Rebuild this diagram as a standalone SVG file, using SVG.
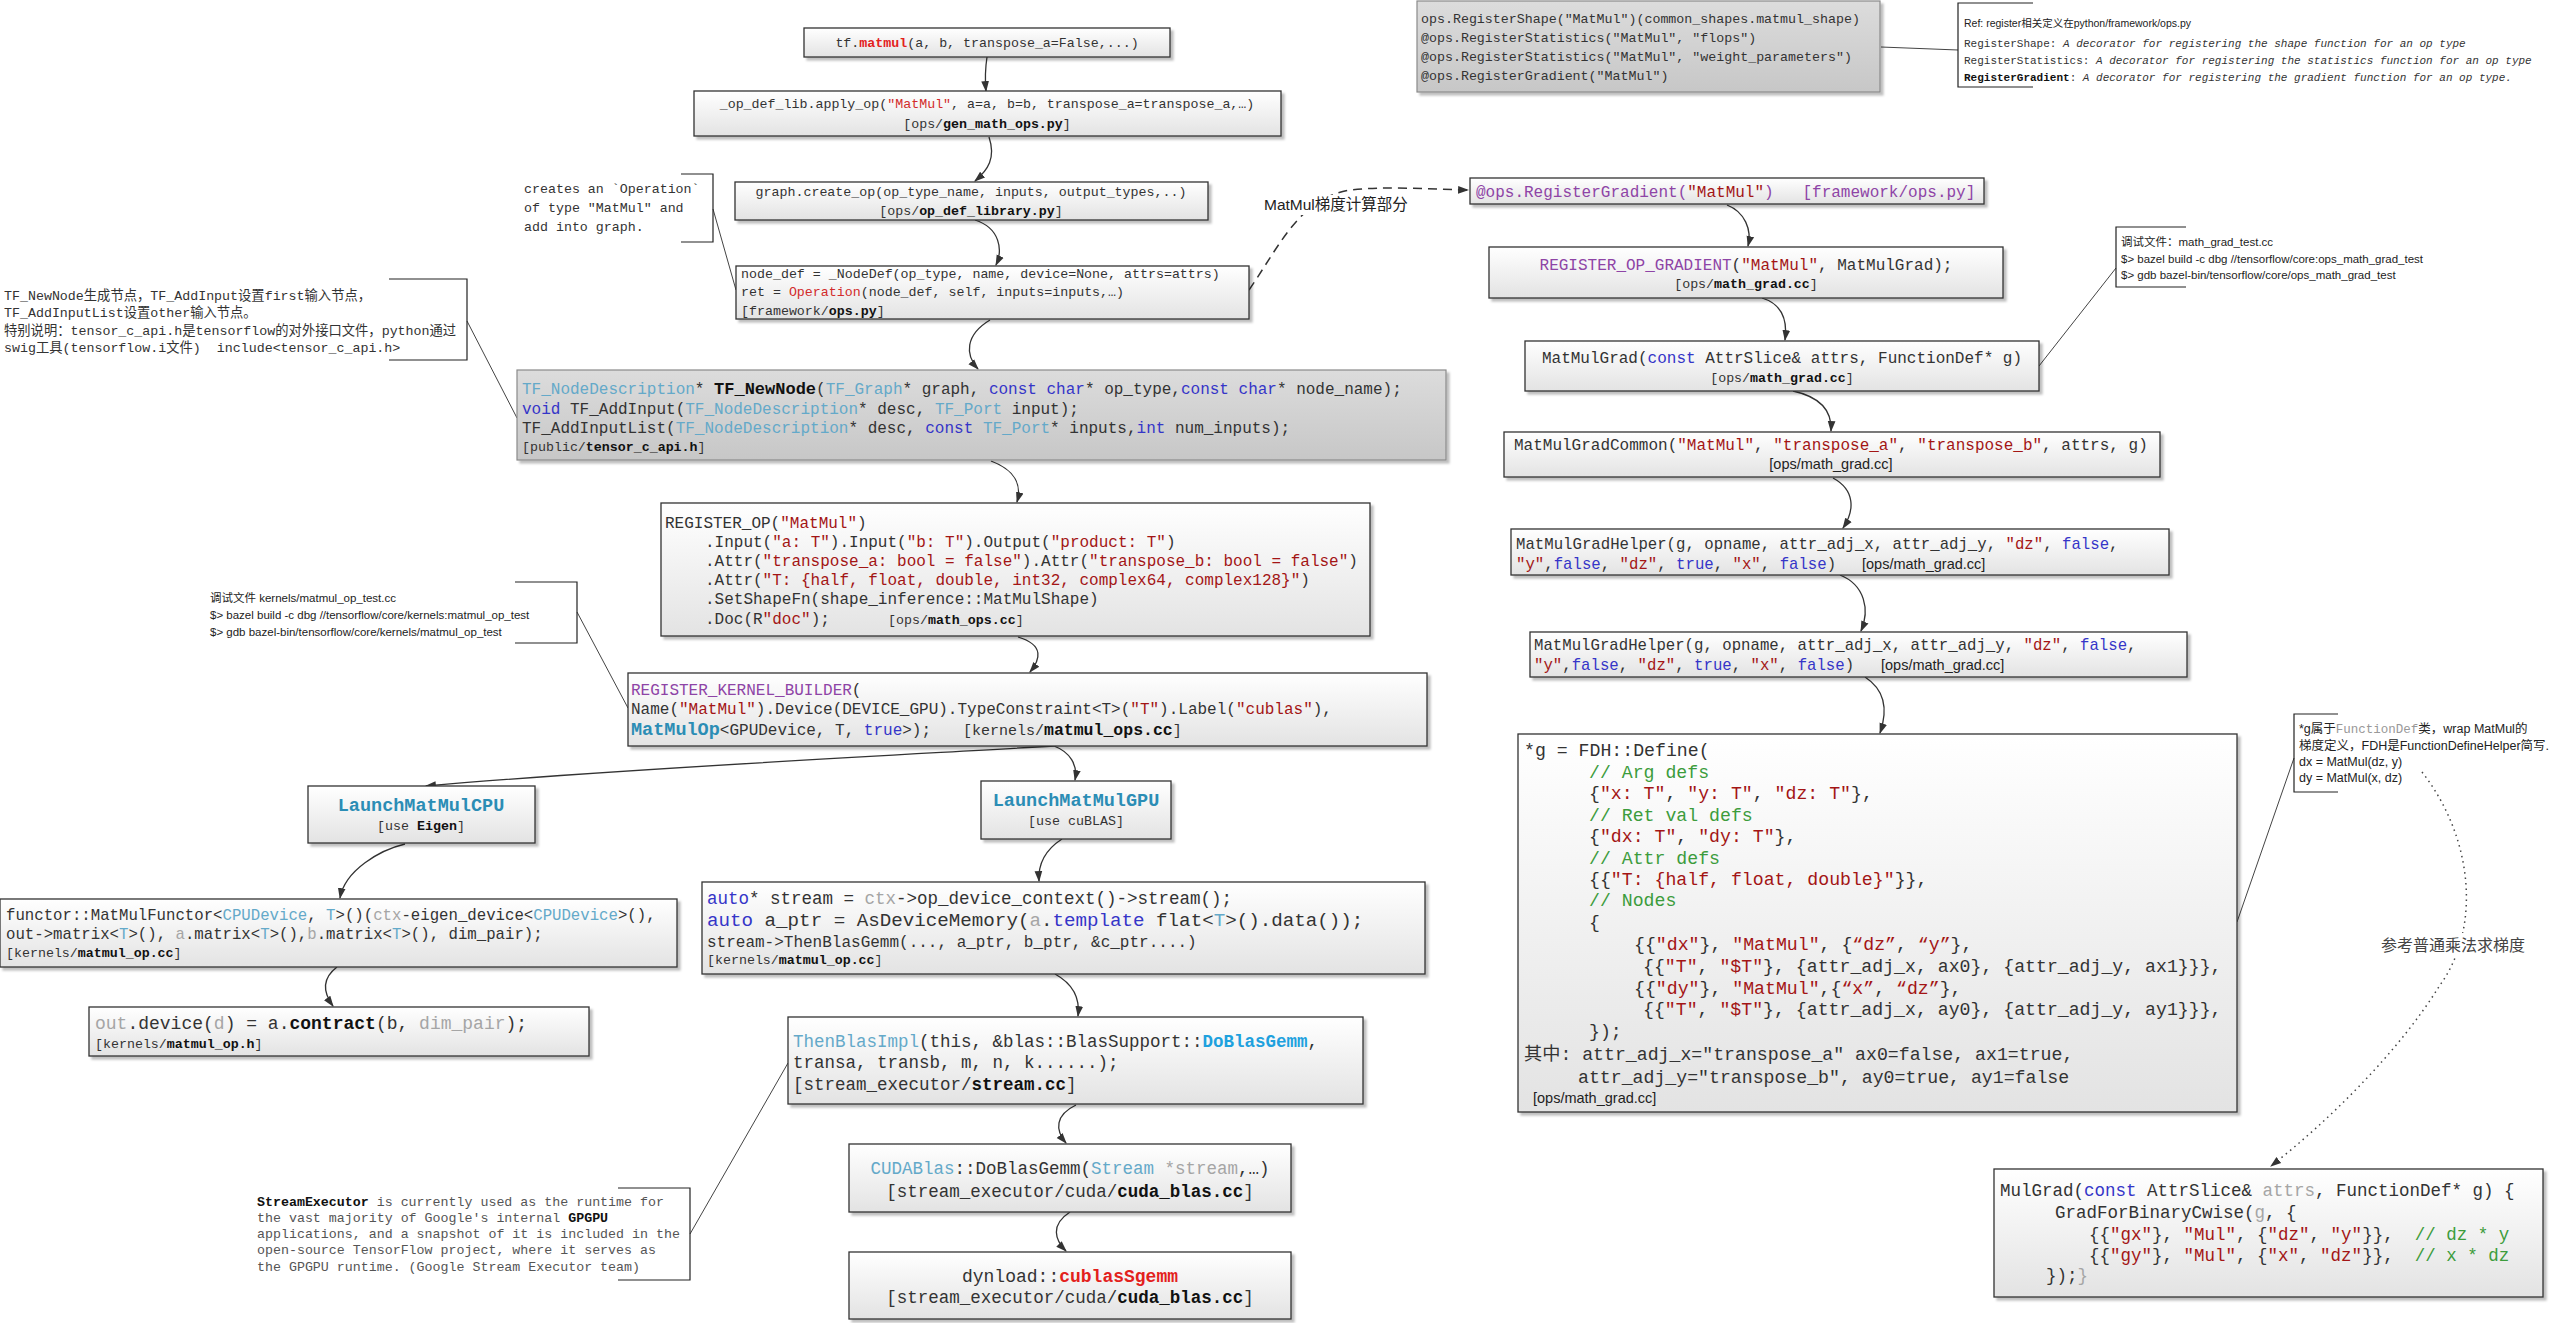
<svg xmlns="http://www.w3.org/2000/svg" width="2551" height="1323" viewBox="0 0 2551 1323">
<defs>
<linearGradient id="g" x1="0" y1="0" x2="0" y2="1"><stop offset="0" stop-color="#ffffff"/><stop offset="1" stop-color="#e3e3e3"/></linearGradient>
<linearGradient id="gg" x1="0" y1="0" x2="0" y2="1"><stop offset="0" stop-color="#dcdcdc"/><stop offset="1" stop-color="#c7c7c7"/></linearGradient>
<filter id="sh" x="-5%" y="-10%" width="115%" height="140%"><feDropShadow dx="3" dy="3" stdDeviation="1.2" flood-color="#000" flood-opacity="0.25"/></filter>
<marker id="ar" viewBox="0 0 10 10" refX="9" refY="5" markerUnits="userSpaceOnUse" markerWidth="11" markerHeight="11" orient="auto"><path d="M0,1.5 L10,5 L0,8.5 Z" fill="#333"/></marker>
</defs>
<style>
.bx{fill:url(#g);stroke:#333;stroke-width:1.3;filter:url(#sh)}
.gb{fill:url(#gg);stroke:#8a8a8a;stroke-width:1.2;filter:url(#sh)}
.m{font-family:"Liberation Mono","Noto Sans CJK SC",monospace;fill:#333}
.sn{font-family:"Liberation Sans","Noto Sans CJK SC",sans-serif;fill:#222}
.f11{font-size:11px}.f13{font-size:13.3px}.f16{font-size:16px}.f17{font-size:17.5px}.f18{font-size:18.2px}
.r{fill:#a31515}.rr{fill:#d22b2b}.R{fill:#e3211c;font-weight:bold}
.k{fill:#3535c8}.t{fill:#64a9c9}.gy{fill:#a5a5a5}.p{fill:#8e44a6}.c{fill:#3c9c3c}
.bd{font-weight:bold;fill:#111}.tb{fill:#2b8db5;font-weight:bold}.db{fill:#1ea1de;font-weight:bold}
.it{font-style:italic}
.e{fill:none;stroke:#333;stroke-width:1.3;marker-end:url(#ar)}
.ds{fill:none;stroke:#333;stroke-width:1.5;stroke-dasharray:9 6;marker-end:url(#ar)}
.dt{fill:none;stroke:#444;stroke-width:1.5;stroke-dasharray:1.5 4;marker-end:url(#ar)}
.ln{fill:none;stroke:#444;stroke-width:1}
.br{fill:none;stroke:#222;stroke-width:1.2}
</style>
<rect x="0" y="0" width="2551" height="1323" fill="#ffffff"/>

<g id="connectors">
<path class="e" d="M987,57 C985,70 985,80 986,91"/>
<path class="e" d="M989,137 C996,158 988,170 975,181"/>
<path class="e" d="M975,220 C1000,228 1003,250 996,265"/>
<path class="e" d="M990,320 C965,335 965,355 978,369"/>
<path class="e" d="M991,461 C1015,470 1022,485 1017,502"/>
<path class="e" d="M1018,637 C1045,645 1040,660 1030,672"/>
<path class="e" d="M1054,746 C900,755 600,770 426,786"/>
<path class="e" d="M1054,746 C1070,752 1078,765 1075,780"/>
<path class="e" d="M405,844 C380,850 345,870 340,898"/>
<path class="e" d="M337,967 C320,980 325,995 333,1006"/>
<path class="e" d="M1062,839 C1045,850 1038,865 1039,881"/>
<path class="e" d="M1055,974 C1075,985 1080,1000 1078,1016"/>
<path class="e" d="M1076,1105 C1055,1115 1055,1130 1066,1143"/>
<path class="e" d="M1070,1212 C1050,1225 1055,1240 1066,1251"/>
<path class="e" d="M1727,205 C1745,212 1752,230 1748,246"/>
<path class="e" d="M1762,298 C1785,305 1787,325 1785,340"/>
<path class="e" d="M1793,391 C1825,398 1832,415 1831,431"/>
<path class="e" d="M1833,478 C1855,490 1855,510 1843,528"/>
<path class="e" d="M1840,575 C1865,585 1870,610 1861,631"/>
<path class="e" d="M1865,677 C1885,690 1888,710 1880,733"/>
<path class="ds" d="M1249,290 C1280,245 1300,198 1350,190 C1385,186 1420,189 1468,190"/>
<path class="dt" d="M2422,772 C2475,840 2480,930 2440,985 C2400,1050 2330,1120 2271,1166"/>
<path class="ln" d="M1881,47 L1958,50"/>
<path class="ln" d="M713,209 L736,290"/>
<path class="ln" d="M467,321 L517,418"/>
<path class="ln" d="M577,612 L628,708"/>
<path class="ln" d="M690,1234 L788,1063"/>
<path class="ln" d="M2039,366 L2116,268"/>
<path class="ln" d="M2237,922 L2294,758"/>
</g>

<g id="n-registershape"><rect class="gb" x="1417" y="1" width="463" height="91"/>
<text class="m f13" x="1421" y="22.5">ops.RegisterShape("MatMul")(common_shapes.matmul_shape)</text>
<text class="m f13" x="1421" y="41.5">@ops.RegisterStatistics("MatMul", "flops")</text>
<text class="m f13" x="1421" y="60.5">@ops.RegisterStatistics("MatMul", "weight_parameters")</text>
<text class="m f13" x="1421" y="79.5">@ops.RegisterGradient("MatMul")</text></g>

<g id="n-refnote"><path class="br" d="M2033,3 H1958 V87 H2033"/>
<text class="sn" style="font-size:10.5px" x="1964" y="27">Ref: register相关定义在python/framework/ops.py</text>
<text class="m f11" x="1964" y="47">RegisterShape: <tspan class="it">A decorator for registering the shape function for an op type</tspan></text>
<text class="m f11" x="1964" y="64">RegisterStatistics: <tspan class="it">A decorator for registering the statistics function for an op type</tspan></text>
<text class="m f11" x="1964" y="81"><tspan class="bd">RegisterGradient</tspan>: <tspan class="it">A decorator for registering the gradient function for an op type.</tspan></text></g>

<g id="n-tfmatmul"><rect class="bx" x="804" y="28" width="366" height="29"/>
<text class="m f13" x="987" y="47" text-anchor="middle">tf.<tspan class="R">matmul</tspan>(a, b, transpose_a=False,...)</text></g>

<g id="n-applyop"><rect class="bx" x="694" y="91" width="587" height="45"/>
<text class="m f13" x="987" y="108" text-anchor="middle">_op_def_lib.apply_op(<tspan class="rr">"MatMul"</tspan>, a=a, b=b, transpose_a=transpose_a,…)</text>
<text class="m f13" x="987" y="127.5" text-anchor="middle">[ops/<tspan class="bd">gen_math_ops.py</tspan>]</text></g>

<g id="n-createnote"><path class="br" d="M681,174 H713 V242 H681"/>
<text class="m f13" x="524" y="193">creates an `Operation`</text>
<text class="m f13" x="524" y="212">of type "MatMul" and</text>
<text class="m f13" x="524" y="231">add into graph.</text></g>

<g id="n-createop"><rect class="bx" x="735" y="182" width="473" height="38"/>
<text class="m f13" x="971" y="195.5" text-anchor="middle">graph.create_op(op_type_name, inputs, output_types,..)</text>
<text class="m f13" x="971" y="214.5" text-anchor="middle">[ops/<tspan class="bd">op_def_library.py</tspan>]</text></g>

<g id="n-nodedef"><rect class="bx" x="736" y="266" width="513" height="53"/>
<text class="m f13" x="741" y="278">node_def = _NodeDef(op_type, name, device=None, attrs=attrs)</text>
<text class="m f13" x="741" y="296">ret = <tspan class="rr">Operation</tspan>(node_def, self, inputs=inputs,…)</text>
<text class="m f13" x="741" y="315">[framework/<tspan class="bd">ops.py</tspan>]</text></g>

<g id="n-tfnote"><path class="br" d="M389,279 H467 V360 H389"/>
<text class="m f13" x="4" y="300">TF_NewNode生成节点，TF_AddInput设置first输入节点，</text>
<text class="m f13" x="4" y="317">TF_AddInputList设置other输入节点。</text>
<text class="m f13" x="4" y="335">特别说明：tensor_c_api.h是tensorflow的对外接口文件，python通过</text>
<text class="m f13" x="4" y="352">swig工具(tensorflow.i文件)&#160;&#160;include&lt;tensor_c_api.h&gt;</text></g>

<g id="n-tfnewnode"><rect class="gb" x="517" y="370" width="929" height="90"/>
<text class="m f16" x="522" y="394"><tspan class="t">TF_NodeDescription</tspan>* <tspan class="bd" style="font-size:17px">TF_NewNode</tspan>(<tspan class="t">TF_Graph</tspan>* graph, <tspan class="k">const char</tspan>* op_type,<tspan class="k">const char</tspan>* node_name);</text>
<text class="m f16" x="522" y="413.5"><tspan class="k">void</tspan> TF_AddInput(<tspan class="t">TF_NodeDescription</tspan>* desc, <tspan class="t">TF_Port</tspan> input);</text>
<text class="m f16" x="522" y="433">TF_AddInputList(<tspan class="t">TF_NodeDescription</tspan>* desc, <tspan class="k">const</tspan> <tspan class="t">TF_Port</tspan>* inputs,<tspan class="k">int</tspan> num_inputs);</text>
<text class="m f13" x="522" y="451">[public/<tspan class="bd">tensor_c_api.h</tspan>]</text></g>

<g id="n-registerop"><rect class="bx" x="661" y="503" width="709" height="133"/>
<text class="m f16" x="665" y="527.5">REGISTER_OP(<tspan class="r">"MatMul"</tspan>)</text>
<text class="m f16" x="705" y="546.5">.Input(<tspan class="r">"a: T"</tspan>).Input(<tspan class="r">"b: T"</tspan>).Output(<tspan class="r">"product: T"</tspan>)</text>
<text class="m f16" x="705" y="565.5">.Attr(<tspan class="r">"transpose_a: bool = false"</tspan>).Attr(<tspan class="r">"transpose_b: bool = false"</tspan>)</text>
<text class="m f16" x="705" y="584.5">.Attr(<tspan class="r">"T: {half, float, double, int32, complex64, complex128}"</tspan>)</text>
<text class="m f16" x="705" y="603.5">.SetShapeFn(shape_inference::MatMulShape)</text>
<text class="m f16" x="705" y="623.5">.Doc(R<tspan class="r">"doc"</tspan>);</text>
<text class="m f13" x="888" y="623.5">[ops/<tspan class="bd">math_ops.cc</tspan>]</text></g>

<g id="n-debug1"><path class="br" d="M515,582 H577 V643 H515"/>
<text class="sn" style="font-size:11.5px" x="210" y="602">调试文件 kernels/matmul_op_test.cc</text>
<text class="sn" style="font-size:11.5px" x="210" y="619">$&gt; bazel build -c dbg //tensorflow/core/kernels:matmul_op_test</text>
<text class="sn" style="font-size:11.5px" x="210" y="636">$&gt; gdb bazel-bin/tensorflow/core/kernels/matmul_op_test</text></g>

<g id="n-kernelbuilder"><rect class="bx" x="628" y="673" width="799" height="73"/>
<text class="m f16" x="631" y="695"><tspan class="p">REGISTER_KERNEL_BUILDER</tspan>(</text>
<text class="m f16" x="631" y="714">Name(<tspan class="r">"MatMul"</tspan>).Device(DEVICE_GPU).TypeConstraint&lt;T&gt;(<tspan class="r">"T"</tspan>).Label(<tspan class="r">"cublas"</tspan>),</text>
<text class="m f16" x="631" y="735"><tspan class="tb" style="font-size:18.5px">MatMulOp</tspan>&lt;GPUDevice, T, <tspan class="k">true</tspan>&gt;);</text>
<text class="m" style="font-size:15px" x="963" y="735">[kernels/<tspan class="bd" style="font-size:16.5px">matmul_ops.cc</tspan>]</text></g>

<g id="n-launchcpu"><rect class="bx" x="308" y="786" width="227" height="57"/>
<text class="m" style="font-size:18.5px" x="421" y="811" text-anchor="middle"><tspan class="tb">LaunchMatMulCPU</tspan></text>
<text class="m f13" x="421" y="830" text-anchor="middle">[use <tspan class="bd">Eigen</tspan>]</text></g>

<g id="n-launchgpu"><rect class="bx" x="981" y="781" width="190" height="58"/>
<text class="m" style="font-size:18.5px" x="1076" y="806" text-anchor="middle"><tspan class="tb">LaunchMatMulGPU</tspan></text>
<text class="m f13" x="1076" y="825" text-anchor="middle">[use cuBLAS]</text></g>

<g id="n-functor"><rect class="bx" x="0" y="899" width="677" height="68"/>
<text class="m" style="font-size:15.7px" x="6" y="919.5">functor::MatMulFunctor&lt;<tspan class="t">CPUDevice</tspan>, <tspan class="t">T</tspan>&gt;()(<tspan class="gy">ctx</tspan>-eigen_device&lt;<tspan class="t">CPUDevice</tspan>&gt;(),</text>
<text class="m" style="font-size:15.7px" x="6" y="939">out-&gt;matrix&lt;<tspan class="t">T</tspan>&gt;(), <tspan class="gy">a</tspan>.matrix&lt;<tspan class="t">T</tspan>&gt;(),<tspan class="gy">b</tspan>.matrix&lt;<tspan class="t">T</tspan>&gt;(), dim_pair);</text>
<text class="m f13" x="6" y="957">[kernels/<tspan class="bd">matmul_op.cc</tspan>]</text></g>

<g id="n-contract"><rect class="bx" x="89" y="1007" width="500" height="49"/>
<text class="m" style="font-size:18px" x="95" y="1029"><tspan class="gy">out</tspan>.device(<tspan class="gy">d</tspan>) = a.<tspan class="bd">contract</tspan>(b, <tspan class="gy">dim_pair</tspan>);</text>
<text class="m f13" x="95" y="1048">[kernels/<tspan class="bd">matmul_op.h</tspan>]</text></g>

<g id="n-autostream"><rect class="bx" x="702" y="882" width="723" height="92"/>
<text class="m" style="font-size:17.5px" x="707" y="904"><tspan class="k">auto</tspan>* stream = <tspan class="gy">ctx</tspan>-&gt;op_device_context()-&gt;stream();</text>
<text class="m" style="font-size:19.2px" x="707" y="926"><tspan class="k">auto</tspan> a_ptr = AsDeviceMemory(<tspan class="gy">a</tspan>.<tspan class="k">template</tspan> flat&lt;<tspan class="t">T</tspan>&gt;().data());</text>
<text class="m f16" x="707" y="947">stream-&gt;ThenBlasGemm(..., a_ptr, b_ptr, &amp;c_ptr....)</text>
<text class="m f13" x="707" y="964">[kernels/<tspan class="bd">matmul_op.cc</tspan>]</text></g>

<g id="n-thenblas"><rect class="bx" x="788" y="1017" width="575" height="87"/>
<text class="m f17" x="793" y="1047"><tspan class="t">ThenBlasImpl</tspan>(this, &amp;blas::BlasSupport::<tspan class="db">DoBlasGemm</tspan>,</text>
<text class="m f17" x="793" y="1068">transa, transb, m, n, k......);</text>
<text class="m f17" x="793" y="1090">[stream_executor/<tspan class="bd">stream.cc</tspan>]</text></g>

<g id="n-streamnote"><path class="br" d="M618,1188 H690 V1280 H618"/>
<text class="m f13" style="fill:#555" x="257" y="1206"><tspan class="bd">StreamExecutor</tspan> is currently used as the runtime for</text>
<text class="m f13" style="fill:#555" x="257" y="1222">the vast majority of Google's internal <tspan class="bd">GPGPU</tspan></text>
<text class="m f13" style="fill:#555" x="257" y="1238">applications, and a snapshot of it is included in the</text>
<text class="m f13" style="fill:#555" x="257" y="1254">open-source TensorFlow project, where it serves as</text>
<text class="m f13" style="fill:#555" x="257" y="1271">the GPGPU runtime. (Google Stream Executor team)</text></g>

<g id="n-cudablas"><rect class="bx" x="849" y="1144" width="442" height="68"/>
<text class="m f17" x="1070" y="1174" text-anchor="middle"><tspan class="t">CUDABlas</tspan>::DoBlasGemm(<tspan class="t">Stream</tspan> <tspan class="gy">*stream</tspan>,…)</text>
<text class="m f17" x="1070" y="1197" text-anchor="middle">[stream_executor/cuda/<tspan class="bd">cuda_blas.cc</tspan>]</text></g>

<g id="n-dynload"><rect class="bx" x="849" y="1252" width="442" height="67"/>
<text class="m" style="font-size:18px" x="1070" y="1282" text-anchor="middle">dynload::<tspan class="R">cublasSgemm</tspan></text>
<text class="m f17" x="1070" y="1303" text-anchor="middle">[stream_executor/cuda/<tspan class="bd">cuda_blas.cc</tspan>]</text></g>

<g id="n-gradlabel"><rect x="1262" y="195" width="150" height="20" fill="#ffffff"/>
<text class="sn" style="font-size:15.5px" x="1264" y="210">MatMul梯度计算部分</text></g>

<g id="n-registergradient"><rect class="bx" x="1470" y="178" width="514" height="26"/>
<text class="m f16 p" x="1476" y="197">@ops.RegisterGradient(<tspan class="r">"MatMul"</tspan>)&#160;&#160;&#160;[framework/ops.py]</text></g>

<g id="n-opgradient"><rect class="bx" x="1489" y="247" width="514" height="51"/>
<text class="m f16" x="1746" y="269.5" text-anchor="middle"><tspan class="p">REGISTER_OP_GRADIENT</tspan>(<tspan class="r">"MatMul"</tspan>, MatMulGrad);</text>
<text class="m f13" x="1746" y="288" text-anchor="middle">[ops/<tspan class="bd">math_grad.cc</tspan>]</text></g>

<g id="n-matmulgrad"><rect class="bx" x="1525" y="341" width="514" height="50"/>
<text class="m f16" x="1782" y="362.5" text-anchor="middle">MatMulGrad(<tspan class="k">const</tspan> AttrSlice&amp; attrs, FunctionDef* g)</text>
<text class="m f13" x="1782" y="382" text-anchor="middle">[ops/<tspan class="bd">math_grad.cc</tspan>]</text></g>

<g id="n-debug2"><path class="br" d="M2186,227 H2116 V287 H2186"/>
<text class="sn" style="font-size:11.5px" x="2121" y="246">调试文件：math_grad_test.cc</text>
<text class="sn" style="font-size:11.5px" x="2121" y="263">$&gt; bazel build -c dbg //tensorflow/core:ops_math_grad_test</text>
<text class="sn" style="font-size:11.5px" x="2121" y="279">$&gt; gdb bazel-bin/tensorflow/core/ops_math_grad_test</text></g>

<g id="n-gradcommon"><rect class="bx" x="1504" y="432" width="656" height="45"/>
<text class="m f16" x="1514" y="449.5">MatMulGradCommon(<tspan class="r">"MatMul"</tspan>, <tspan class="r">"transpose_a"</tspan>, <tspan class="r">"transpose_b"</tspan>, attrs, g)</text>
<text class="sn" style="font-size:14.5px" x="1831" y="469" text-anchor="middle">[ops/math_grad.cc]</text></g>

<g id="n-helper1"><rect class="bx" x="1511" y="529" width="658" height="46"/>
<text class="m" style="font-size:15.7px" x="1516" y="548.5">MatMulGradHelper(g, opname, attr_adj_x, attr_adj_y, <tspan class="r">"dz"</tspan>, <tspan class="k">false</tspan>,</text>
<text class="m" style="font-size:15.7px" x="1516" y="568.5"><tspan class="r">"y"</tspan>,<tspan class="k">false</tspan>, <tspan class="r">"dz"</tspan>, <tspan class="k">true</tspan>, <tspan class="r">"x"</tspan>, <tspan class="k">false</tspan>)</text>
<text class="sn" style="font-size:14.5px" x="1862" y="568.5">[ops/math_grad.cc]</text></g>

<g id="n-helper2"><rect class="bx" x="1530" y="632" width="657" height="45"/>
<text class="m" style="font-size:15.7px" x="1534" y="649.5">MatMulGradHelper(g, opname, attr_adj_x, attr_adj_y, <tspan class="r">"dz"</tspan>, <tspan class="k">false</tspan>,</text>
<text class="m" style="font-size:15.7px" x="1534" y="670"><tspan class="r">"y"</tspan>,<tspan class="k">false</tspan>, <tspan class="r">"dz"</tspan>, <tspan class="k">true</tspan>, <tspan class="r">"x"</tspan>, <tspan class="k">false</tspan>)</text>
<text class="sn" style="font-size:14.5px" x="1881" y="670">[ops/math_grad.cc]</text></g>

<g id="n-fdh"><rect class="bx" x="1518" y="734" width="719" height="378"/>
<text class="m f18" x="1524" y="755.5">*g = FDH::Define(</text>
<text class="m f18 c" x="1589" y="777.5">// Arg defs</text>
<text class="m f18" x="1589" y="798.5">{<tspan class="r">"x: T"</tspan>, <tspan class="r">"y: T"</tspan>, <tspan class="r">"dz: T"</tspan>},</text>
<text class="m f18 c" x="1589" y="820.5">// Ret val defs</text>
<text class="m f18" x="1589" y="842">{<tspan class="r">"dx: T"</tspan>, <tspan class="r">"dy: T"</tspan>},</text>
<text class="m f18 c" x="1589" y="863.5">// Attr defs</text>
<text class="m f18" x="1589" y="884.5">{{<tspan class="r">"T: {half, float, double}"</tspan>}},</text>
<text class="m f18 c" x="1589" y="906">// Nodes</text>
<text class="m f18" x="1589" y="928">{</text>
<text class="m f18" x="1634" y="949.5">{{<tspan class="r">"dx"</tspan>}, <tspan class="r">"MatMul"</tspan>, {<tspan class="r">“dz”</tspan>, <tspan class="r">“y”</tspan>},</text>
<text class="m f18" x="1643" y="972">{{<tspan class="r">"T"</tspan>, <tspan class="r">"$T"</tspan>}, {attr_adj_x, ax0}, {attr_adj_y, ax1}}},</text>
<text class="m f18" x="1634" y="993.5">{{<tspan class="r">"dy"</tspan>}, <tspan class="r">"MatMul"</tspan>,{<tspan class="r">“x”</tspan>, <tspan class="r">“dz”</tspan>},</text>
<text class="m f18" x="1643" y="1014.5">{{<tspan class="r">"T"</tspan>, <tspan class="r">"$T"</tspan>}, {attr_adj_x, ay0}, {attr_adj_y, ay1}}},</text>
<text class="m f18" x="1589" y="1036.5">});</text>
<text class="m f18" x="1524" y="1059.5">其中: attr_adj_x="transpose_a" ax0=false, ax1=true,</text>
<text class="m f18" x="1578" y="1082.5">attr_adj_y="transpose_b", ay0=true, ay1=false</text>
<text class="sn" style="font-size:14.5px" x="1533" y="1103">[ops/math_grad.cc]</text></g>

<g id="n-fdhnote"><path class="br" d="M2338,714 H2294 V792 H2338"/>
<text class="sn" style="font-size:12.5px" x="2299" y="733">*g属于<tspan class="m" style="fill:#999">FunctionDef</tspan>类，wrap MatMul的</text>
<text class="sn" style="font-size:12.5px" x="2299" y="750">梯度定义，FDH是FunctionDefineHelper简写.</text>
<text class="sn" style="font-size:12.5px" x="2299" y="766">dx = MatMul(dz, y)</text>
<text class="sn" style="font-size:12.5px" x="2299" y="782">dy = MatMul(x, dz)</text></g>

<g id="n-mullabel"><rect x="2378" y="933" width="148" height="22" fill="#ffffff"/>
<text class="sn" style="font-size:16px;fill:#444" x="2381" y="951">参考普通乘法求梯度</text></g>

<g id="n-mulgrad"><rect class="bx" x="1994" y="1169" width="549" height="128"/>
<text class="m f17" x="2000" y="1196">MulGrad(<tspan class="k">const</tspan> AttrSlice&amp; <tspan class="gy">attrs</tspan>, FunctionDef* g) {</text>
<text class="m f17" x="2055" y="1218">GradForBinaryCwise(<tspan class="gy">g</tspan>, {</text>
<text class="m f17" x="2089" y="1240">{{<tspan class="r">"gx"</tspan>}, <tspan class="r">"Mul"</tspan>, {<tspan class="r">"dz"</tspan>, <tspan class="r">"y"</tspan>}},&#160;&#160;<tspan class="c">// dz * y</tspan></text>
<text class="m f17" x="2089" y="1261">{{<tspan class="r">"gy"</tspan>}, <tspan class="r">"Mul"</tspan>, {<tspan class="r">"x"</tspan>, <tspan class="r">"dz"</tspan>}},&#160;&#160;<tspan class="c">// x * dz</tspan></text>
<text class="m f17" x="2046" y="1281">});<tspan class="gy">}</tspan></text></g>
</svg>
